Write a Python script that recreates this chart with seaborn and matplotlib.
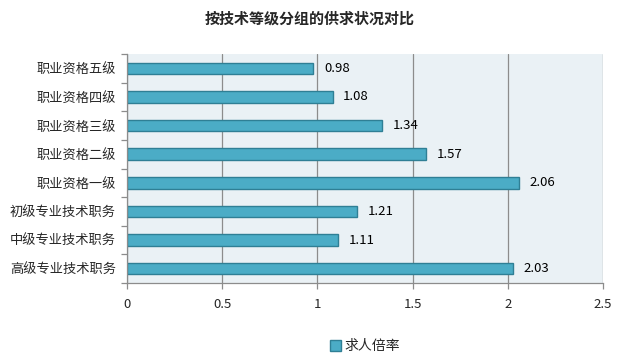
import numpy as np
import pandas as pd
import matplotlib
matplotlib.use("Agg")
import matplotlib.pyplot as plt
import seaborn as sns
from matplotlib.ticker import FixedLocator

# data, top to bottom as shown
categories = ["职业资格五级", "职业资格四级", "职业资格三级", "职业资格二级",
              "职业资格一级", "初级专业技术职务", "中级专业技术职务", "高级专业技术职务"]
values = [0.98, 1.08, 1.34, 1.57, 2.06, 1.21, 1.11, 2.03]
series_name = "求人倍率"
x_ticks = [0, 0.5, 1, 1.5, 2, 2.5]

df = pd.DataFrame({"cat": categories, "val": values, "series": series_name})

sns.set_style("white")
plt.rcParams["font.family"] = ["Noto Sans CJK SC", "DejaVu Sans"]

fig = plt.figure(figsize=(6.19, 3.62), dpi=100)
ax = fig.add_axes([0.205, 0.218, 0.769, 0.633])
ax.set_facecolor("#EAF1F5")

sns.barplot(data=df, x="val", y="cat", hue="series", order=categories,
            palette=["#4BACC6"], saturation=1, orient="h", width=0.4, ax=ax,
            edgecolor="#2F7F95", linewidth=1)

ax.set_xlim(0, 2.5)
ax.set_xticks(x_ticks)
ax.set_xticklabels([f"{t:g}" for t in x_ticks])
ax.xaxis.grid(True, color="#8C8C8C", linewidth=0.9)
ax.set_axisbelow(True)

for p, v in zip(ax.patches, values):
    ax.text(p.get_width() + 0.055, p.get_y() + p.get_height() / 2, f"{v:.2f}",
            va="center", ha="left", fontsize=9.5, color="#000000")

# y tick marks between categories
ax.yaxis.set_minor_locator(FixedLocator(np.arange(-0.5, len(categories), 1)))
ax.tick_params(axis="y", which="major", length=0, labelsize=9.5, pad=8)
ax.tick_params(axis="y", which="minor", length=4, color="#8C8C8C", width=0.9)
ax.tick_params(axis="x", which="major", length=4, color="#8C8C8C", width=0.9,
               labelsize=9.5, pad=7, direction="out")
ax.tick_params(bottom=True, left=True, which="both")

for s in ["top", "right"]:
    ax.spines[s].set_visible(False)
for s in ["left", "bottom"]:
    ax.spines[s].set_color("#8C8C8C")
    ax.spines[s].set_linewidth(0.9)

ax.set_xlabel("")
ax.set_ylabel("")

leg = ax.legend(loc="upper center", bbox_to_anchor=(0.5, -0.19), frameon=False,
                fontsize=10, handlelength=0.8, handleheight=0.8, handletextpad=0.3)

fig.suptitle("按技术等级分组的供求状况对比", x=0.5, y=0.97, fontsize=10.8,
             fontweight="bold")

fig.savefig("out.png", dpi=100)
